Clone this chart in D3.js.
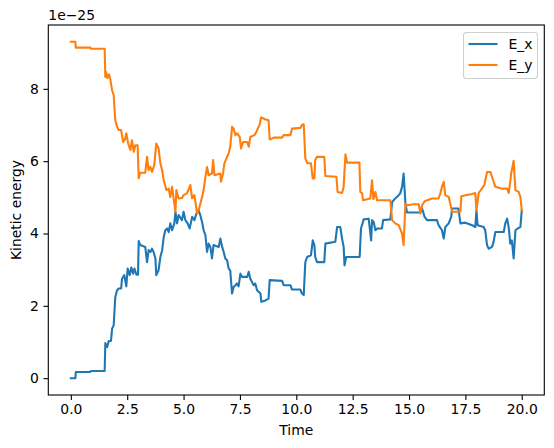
<!DOCTYPE html>
<html>
<head>
<meta charset="utf-8">
<script src="https://cdn.jsdelivr.net/npm/d3@7"></script>
<style>
  body { margin: 0; background: #fff; }
  svg { font-family: "DejaVu Sans", sans-serif; }
</style>
</head>
<body>
<svg id="chart"></svg>
<script>
// values in units of 1e-25
const timeX = [0.00, 0.20, 0.22, 0.86, 0.89, 1.50, 1.53, 1.61, 1.68, 1.78, 1.83, 1.90, 1.97, 2.05, 2.12, 2.23, 2.27, 2.37, 2.46, 2.52,
  2.61, 2.68, 2.76, 2.82, 2.91, 2.98, 3.01, 3.08, 3.30, 3.38, 3.45, 3.53, 3.60, 3.67, 3.75, 3.79, 3.89, 3.97, 4.05, 4.12,
  4.19, 4.27, 4.34, 4.41, 4.49, 4.59, 4.64, 4.71, 4.78, 4.93, 5.00, 5.08, 5.18, 5.27, 5.38, 5.48, 5.57, 5.67, 5.74, 5.82,
  5.89, 5.97, 6.04, 6.11, 6.19, 6.26, 6.33, 6.56, 6.63, 6.71, 6.78, 6.85, 6.93, 7.00, 7.07, 7.15, 7.22, 7.30, 7.37, 7.44,
  7.52, 7.59, 7.82, 7.89, 7.96, 8.11, 8.18, 8.26, 8.41, 8.45, 8.63, 8.77, 8.82, 9.37, 9.44, 9.74, 9.81, 10.18, 10.25, 10.33,
  10.40, 10.48, 10.65, 10.73, 10.80, 10.84, 10.92, 11.24, 11.29, 11.73, 11.81, 11.95, 12.03, 12.10, 12.14, 12.21, 12.81, 12.87, 12.99, 13.21,
  13.32, 13.36, 13.43, 13.51, 13.58, 13.80, 13.85, 14.17, 14.25, 14.39, 14.54, 14.61, 14.69, 14.76, 14.84, 14.91, 15.50, 15.58, 15.69, 15.80,
  16.24, 16.31, 16.46, 16.54, 16.61, 16.76, 16.87, 16.91, 17.19, 17.28, 17.50, 17.80, 17.94, 17.99, 18.04, 18.31, 18.38, 18.46, 18.53, 18.68,
  18.75, 18.83, 19.20, 19.27, 19.35, 19.42, 19.49, 19.56, 19.64, 19.72, 19.82, 19.94, 20.00];
const energyX = [0.00, 0.00, 0.17, 0.17, 0.20, 0.20, 0.97, 0.86, 1.03, 1.03, 1.37, 1.46, 2.24, 2.43, 2.48, 2.48, 2.75, 2.85, 2.54, 3.03,
  2.85, 3.06, 2.89, 3.03, 2.86, 2.86, 3.79, 3.68, 3.63, 3.21, 3.54, 3.49, 3.58, 3.49, 3.31, 2.85, 2.98, 3.35, 3.54, 3.90,
  4.09, 4.14, 4.04, 4.28, 4.09, 4.28, 4.60, 4.28, 4.51, 4.37, 4.60, 4.37, 4.28, 4.14, 4.46, 4.37, 4.55, 4.64, 4.51, 4.32,
  4.09, 3.95, 3.49, 3.72, 3.63, 3.31, 3.68, 3.63, 3.86, 3.63, 3.49, 3.31, 3.26, 3.03, 2.98, 2.34, 2.52, 2.57, 2.62, 2.54,
  2.89, 2.80, 2.80, 2.94, 2.75, 2.57, 2.62, 2.43, 2.34, 2.11, 2.15, 2.20, 2.71, 2.69, 2.57, 2.57, 2.45, 2.45, 2.34, 2.30,
  3.21, 3.35, 3.40, 3.81, 3.68, 3.35, 3.21, 3.21, 3.72, 3.77, 4.18, 4.18, 3.86, 3.63, 3.12, 3.35, 3.35, 4.14, 4.39, 4.41,
  3.81, 4.37, 4.32, 4.09, 4.14, 4.14, 4.37, 4.39, 4.87, 4.97, 5.06, 5.11, 5.29, 5.66, 4.83, 4.58, 4.58, 4.69, 4.46, 4.37,
  4.37, 4.23, 4.09, 3.86, 4.18, 4.28, 4.46, 4.69, 4.69, 4.28, 4.30, 4.23, 4.18, 4.64, 4.23, 4.18, 4.09, 3.68, 3.58, 3.63,
  3.77, 4.04, 4.04, 4.28, 4.41, 4.18, 3.72, 3.81, 3.31, 4.09, 4.14, 4.18, 4.64];

const timeY = [0.00, 0.20, 0.22, 0.86, 0.89, 1.50, 1.53, 1.56, 1.62, 1.69, 1.75, 1.83, 1.90, 1.97, 2.05, 2.12, 2.23, 2.32, 2.40, 2.46,
  2.54, 2.64, 2.71, 2.79, 2.86, 2.96, 3.01, 3.08, 3.30, 3.38, 3.45, 3.53, 3.60, 3.70, 3.79, 3.89, 3.97, 4.05, 4.12, 4.24,
  4.34, 4.41, 4.49, 4.64, 4.68, 4.78, 4.93, 5.00, 5.15, 5.30, 5.38, 5.48, 5.60, 5.71, 5.82, 5.89, 5.97, 6.04, 6.11, 6.26,
  6.31, 6.37, 6.63, 6.66, 6.75, 6.81, 6.93, 7.00, 7.07, 7.15, 7.22, 7.30, 7.37, 7.49, 7.55, 7.64, 7.82, 7.89, 7.96, 8.14,
  8.23, 8.29, 8.37, 8.44, 8.55, 8.63, 8.77, 8.82, 9.00, 9.37, 9.44, 9.74, 9.81, 10.18, 10.25, 10.33, 10.40, 10.48, 10.65, 10.73,
  10.80, 10.84, 10.92, 11.24, 11.29, 11.78, 11.83, 12.03, 12.10, 12.18, 12.25, 12.80, 12.84, 12.92, 12.96, 13.28, 13.36, 13.42, 13.51, 13.58,
  14.17, 14.25, 14.39, 14.54, 14.69, 14.76, 14.84, 14.91, 15.21, 15.43, 15.50, 15.58, 15.69, 16.02, 16.31, 16.39, 16.46, 16.54, 16.61, 16.76,
  16.91, 17.28, 17.32, 17.50, 17.80, 17.94, 17.99, 18.09, 18.34, 18.46, 18.61, 18.68, 18.83, 19.13, 19.35, 19.42, 19.49, 19.53, 19.64, 19.72,
  19.86, 19.94, 20.00];
const energyY = [9.30, 9.30, 9.14, 9.14, 9.11, 9.11, 8.33, 8.47, 8.30, 8.40, 8.27, 7.96, 7.83, 7.13, 6.95, 6.86, 6.86, 6.53, 6.60, 6.77,
  6.50, 6.31, 6.58, 6.26, 6.44, 6.44, 5.53, 5.68, 5.68, 6.12, 5.75, 5.84, 5.70, 5.89, 6.49, 6.36, 5.94, 5.75, 5.47, 5.20,
  5.24, 5.01, 5.29, 4.60, 5.20, 4.97, 4.98, 5.06, 5.11, 5.34, 4.97, 5.06, 4.55, 4.74, 5.01, 5.20, 5.57, 5.84, 5.61, 5.66,
  6.03, 5.61, 5.66, 5.43, 5.66, 5.94, 6.12, 6.21, 6.40, 6.95, 6.90, 6.72, 6.77, 6.67, 6.35, 6.53, 6.53, 6.40, 6.67, 6.72,
  6.81, 6.90, 7.00, 7.21, 7.18, 7.15, 7.13, 6.60, 6.65, 6.65, 6.72, 6.72, 6.90, 6.92, 7.00, 7.02, 6.08, 5.95, 5.94, 5.52,
  5.52, 6.03, 6.12, 6.12, 5.59, 5.57, 5.15, 5.12, 5.29, 6.19, 5.96, 5.96, 5.15, 5.11, 4.92, 4.97, 5.47, 4.95, 5.15, 4.92,
  4.92, 4.37, 4.28, 4.23, 4.00, 3.68, 4.83, 4.78, 4.81, 4.81, 4.55, 4.78, 4.89, 4.97, 4.97, 5.11, 5.29, 5.43, 5.06, 5.01,
  4.60, 4.60, 5.03, 5.06, 5.09, 5.12, 4.64, 5.12, 5.34, 5.70, 5.70, 5.57, 5.29, 5.24, 5.24, 5.12, 5.43, 5.66, 6.01, 5.20,
  5.15, 5.01, 4.64];

const seriesNames = ['E_x', 'E_y'];
const seriesColors = ['#1f77b4', '#ff7f0e'];
const xTicks = [0, 2.5, 5, 7.5, 10, 12.5, 15, 17.5, 20];
const yTicks = [0, 2, 4, 6, 8];

const width = 554, height = 448;
const margin = { top: 25, right: 10, bottom: 53, left: 48.3 };
const innerW = 496, innerH = 370;

const svg = d3.select('#chart').attr('width', width).attr('height', height);
const g = svg.append('g').attr('transform', `translate(${margin.left},${margin.top})`);

const series = [
  { name: seriesNames[0], color: seriesColors[0], pts: timeX.map((t, i) => [t, energyX[i]]) },
  { name: seriesNames[1], color: seriesColors[1], pts: timeY.map((t, i) => [t, energyY[i]]) }
];

// matplotlib style 5% margins
const allPts = series.flatMap(s => s.pts);
const [x0, x1] = d3.extent(allPts, d => d[0]);
const [y0, y1] = d3.extent(allPts, d => d[1]);
const xPad = (x1 - x0) * 0.05, yPad = (y1 - y0) * 0.05;

const xScale = d3.scaleLinear().domain([x0 - xPad, x1 + xPad]).range([0, innerW]);
const yScale = d3.scaleLinear().domain([y0 - yPad, y1 + yPad]).range([innerH, 0]);

const line = d3.line().x(d => xScale(d[0])).y(d => yScale(d[1]));

g.append('defs').append('clipPath').attr('id', 'clip')
  .append('rect').attr('width', innerW).attr('height', innerH);

g.append('g').attr('clip-path', 'url(#clip)')
  .selectAll('path')
  .data(series)
  .enter()
  .append('path')
  .attr('d', d => line(d.pts))
  .attr('fill', 'none')
  .attr('stroke', d => d.color)
  .attr('stroke-width', 2.1)
  .attr('stroke-linejoin', 'round')
  .attr('stroke-linecap', 'square');

// axes
const xAxis = g.append('g')
  .attr('transform', `translate(0,${innerH})`)
  .call(d3.axisBottom(xScale).tickValues(xTicks).tickFormat(d3.format('.1f')).tickSizeOuter(0).tickSize(4.9).tickPadding(4.5));
const yAxis = g.append('g')
  .call(d3.axisLeft(yScale).tickValues(yTicks).tickFormat(d3.format('d')).tickSizeOuter(0).tickSize(4.9).tickPadding(4.5));

[xAxis, yAxis].forEach(a => {
  a.select('.domain').remove();
  a.selectAll('line').attr('stroke', '#000').attr('stroke-width', 1.1);
  a.selectAll('text').attr('font-size', '13.9px').attr('fill', '#000')
    .attr('font-family', '"DejaVu Sans", sans-serif');
});

// frame
g.append('rect')
  .attr('width', innerW).attr('height', innerH)
  .attr('fill', 'none').attr('stroke', '#000').attr('stroke-width', 1.1);

// labels
svg.append('text')
  .attr('x', margin.left + xScale(10)).attr('y', 435)
  .attr('text-anchor', 'middle').attr('font-size', '13.9px')
  .text('Time');

svg.append('text')
  .attr('transform', `translate(21,${margin.top + innerH / 2}) rotate(-90)`)
  .attr('text-anchor', 'middle').attr('font-size', '13.9px')
  .text('Kinetic energy');

svg.append('text')
  .attr('x', margin.left).attr('y', 20)
  .attr('font-size', '13.9px')
  .text('1e\u221225');

// legend
const legend = svg.append('g').attr('transform', 'translate(463.5,32.5)');
legend.append('rect')
  .attr('width', 74).attr('height', 46).attr('rx', 3)
  .attr('fill', '#fff').attr('fill-opacity', 0.8)
  .attr('stroke', '#d0d0d0').attr('stroke-width', 1.1);

series.forEach((s, i) => {
  const y = 11.5 + i * 21;
  legend.append('line')
    .attr('x1', 5).attr('x2', 34).attr('y1', y).attr('y2', y)
    .attr('stroke', s.color).attr('stroke-width', 2.1);
  legend.append('text')
    .attr('x', 45).attr('y', y + 5)
    .attr('font-size', '13.9px')
    .text(s.name);
});
</script>
</body>
</html>
